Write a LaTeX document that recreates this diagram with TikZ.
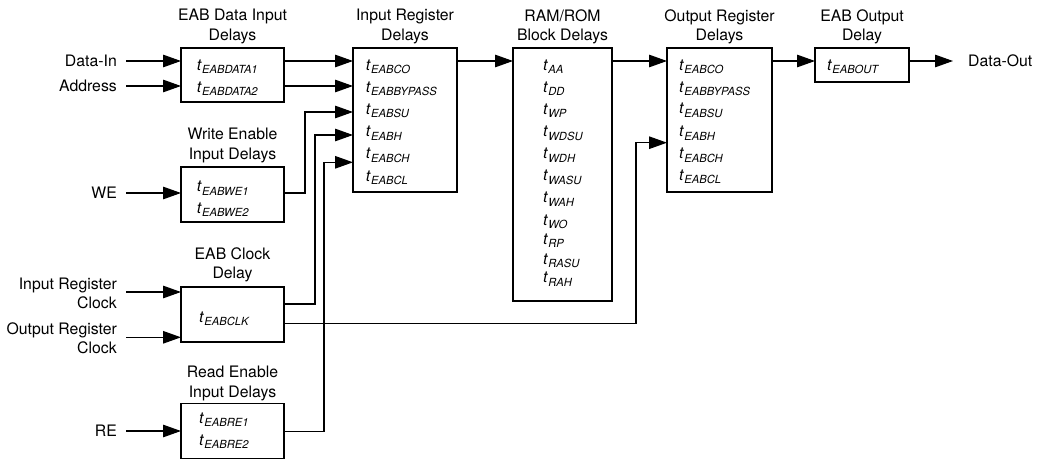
\documentclass[tikz,border=0pt]{standalone}
\usepackage{fontspec}
\setmainfont{TeX Gyre Heros}
\usetikzlibrary{arrows.meta}
\newcommand\tdly[1]{\textit{t}\kern0.2pt\raisebox{-3.2pt}{\fontsize{11.2}{11.5}\selectfont\itshape #1}}
\begin{document}
\begin{tikzpicture}[x=1pt,y=-1pt,
  blk/.style={draw,line width=1.2pt,inner sep=0pt,outer sep=0pt},
  lbl/.style={inner sep=0pt,font=\fontsize{15.8}{19.3}\selectfont},
  row/.style={inner sep=0pt,anchor=west,font=\fontsize{15.8}{19}\selectfont},
  arr/.style={-{Triangle[length=18pt,width=12.5pt]},line width=1.2pt},
  wire/.style={line width=1.2pt}]
\useasboundingbox (0,0) rectangle (1043,460);

% boxes
\node[blk,minimum width=103pt,minimum height=54pt] (dbox) at (232.5,75) {};
\node[blk,minimum width=104pt,minimum height=144pt] (ireg) at (405,120) {};
\node[blk,minimum width=99pt,minimum height=253pt] (ram) at (562.5,174.5) {};
\node[blk,minimum width=105pt,minimum height=144pt] (oreg) at (719.5,120) {};
\node[blk,minimum width=94pt,minimum height=34pt] (obox) at (862,65) {};
\node[blk,minimum width=103pt,minimum height=55pt] (webox) at (232.5,194.5) {};
\node[blk,minimum width=103pt,minimum height=55pt] (cbox) at (232.5,314.5) {};
\node[blk,minimum width=103pt,minimum height=55pt] (rebox) at (232.5,431) {};

% titles
\node[lbl,align=center] (tdbox) at (232.5,26.5) {EAB Data Input\\Delays};
\node[lbl,align=center] (tireg) at (405,26.5) {Input Register\\Delays};
\node[lbl,align=center] (tram) at (562.5,26.5) {RAM/ROM\\Block Delays};
\node[lbl,align=center] (toreg) at (719.5,26.5) {Output Register\\Delays};
\node[lbl,align=center] (tobox) at (862,26.5) {EAB Output\\Delay};
\node[lbl,align=center] (twe) at (232.5,145.5) {Write Enable\\Input Delays};
\node[lbl,align=center] (tcb) at (232.5,265) {EAB Clock\\Delay};
\node[lbl,align=center] (tre) at (232.5,383.5) {Read Enable\\Input Delays};

% input labels
\node[lbl,anchor=east] (din) at (117,61) {Data-In};
\node[lbl,anchor=east] (addr) at (117,86) {Address};
\node[lbl,anchor=east] (we) at (117,193) {WE};
\node[lbl,anchor=east,align=right] (irc) at (117,293.5) {Input Register\\Clock};
\node[lbl,anchor=east,align=right] (orc) at (117,338.5) {Output Register\\Clock};
\node[lbl,anchor=east] (re) at (117,431) {RE};
\node[lbl,anchor=west] (dout) at (968,61) {Data-Out};

% box contents
\node[row] (d1) at (196.7,66.7) {\tdly{EABDATA1}};
\node[row] (d2) at (196.7,89) {\tdly{EABDATA2}};

\node[row] (i1) at (365.7,66.7) {\tdly{EABCO}};
\node[row] (i2) at (365.7,89) {\tdly{EABBYPASS}};
\node[row] (i3) at (365.7,111) {\tdly{EABSU}};
\node[row] (i4) at (365.7,133.3) {\tdly{EABH}};
\node[row] (i5) at (365.7,155.3) {\tdly{EABCH}};
\node[row] (i6) at (365.7,177.7) {\tdly{EABCL}};

\node[row] (m1) at (543,66.7) {\tdly{AA}};
\node[row] (m2) at (543,89) {\tdly{DD}};
\node[row] (m3) at (543,111) {\tdly{WP}};
\node[row] (m4) at (543,133.3) {\tdly{WDSU}};
\node[row] (m5) at (543,155.3) {\tdly{WDH}};
\node[row] (m6) at (543,177.3) {\tdly{WASU}};
\node[row] (m7) at (543,199.3) {\tdly{WAH}};
\node[row] (m8) at (543,221.7) {\tdly{WO}};
\node[row] (m9) at (543,241) {\tdly{RP}};
\node[row] (m10) at (543,260.7) {\tdly{RASU}};
\node[row] (m11) at (543,279.3) {\tdly{RAH}};

\node[row] (o1) at (679,66.7) {\tdly{EABCO}};
\node[row] (o2) at (679,89) {\tdly{EABBYPASS}};
\node[row] (o3) at (679,110.3) {\tdly{EABSU}};
\node[row] (o4) at (679,133.3) {\tdly{EABH}};
\node[row] (o5) at (679,155.3) {\tdly{EABCH}};
\node[row] (o6) at (679,177) {\tdly{EABCL}};

\node[row] (e1) at (827,66.7) {\tdly{EABOUT}};

\node[row] (w1) at (196.7,188.3) {\tdly{EABWE1}};
\node[row] (w2) at (196.7,210) {\tdly{EABWE2}};

\node[row] (c1) at (199,319) {\tdly{EABCLK}};

\node[row] (r1) at (199,420) {\tdly{EABRE1}};
\node[row] (r2) at (199,441.7) {\tdly{EABRE2}};

% bend points
\coordinate (jwe) at (305,112);
\coordinate (jc1) at (315,135);
\coordinate (jre) at (324,162.3);
\coordinate (jc2) at (636,142.7);
\coordinate (c1o) at (284,304);
\coordinate (c2o) at (284,323.3);
\coordinate (irca) at (126,292);
\coordinate (orca) at (126,337.3);

% input arrows
\draw[arr] ([xshift=9pt]din.east) -- (din -| dbox.west);
\draw[arr] ([xshift=9pt]addr.east) -- (addr -| dbox.west);
\draw[arr] ([xshift=9pt]we.east) -- (we -| webox.west);
\draw[arr] (irca) -- (irca -| cbox.west);
\draw[arr] (orca) -- (orca -| cbox.west);
\draw[arr] ([xshift=9pt]re.east) -- (re -| rebox.west);

% data path
\draw[arr] (din -| dbox.east) -- (din -| ireg.west);
\draw[arr] (addr -| dbox.east) -- (addr -| ireg.west);
\draw[arr] (din -| ireg.east) -- (din -| ram.west);
\draw[arr] (din -| ram.east) -- (din -| oreg.west);
\draw[arr] (din -| oreg.east) -- (din -| obox.west);
\draw[arr] (din -| obox.east) -- ([xshift=-15pt]dout.west);

% control paths
\draw[arr] (we -| webox.east) -| (jwe) -- (jwe -| ireg.west);
\draw[arr] (c1o) -| (jc1) -- (jc1 -| ireg.west);
\draw[arr] ([yshift=-0.7pt]re -| rebox.east) -| (jre) -- (jre -| ireg.west);
\draw[arr] (c2o) -| (jc2) -- (jc2 -| oreg.west);
\end{tikzpicture}
\end{document}
